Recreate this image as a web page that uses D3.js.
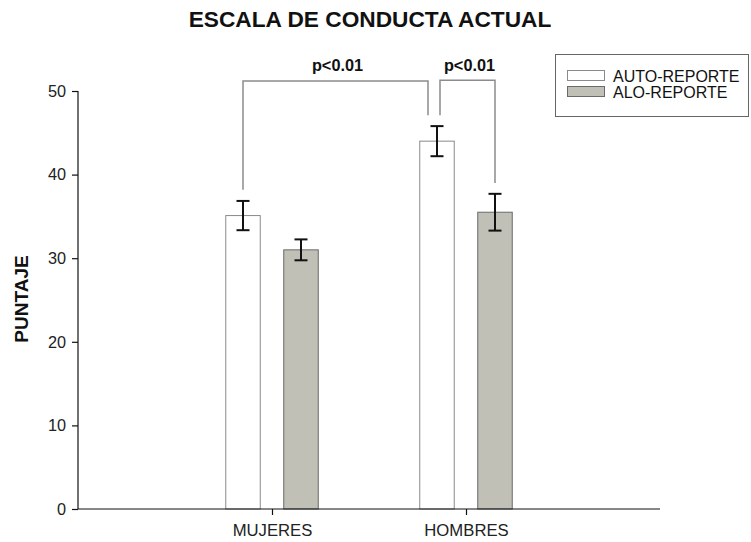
<!DOCTYPE html>
<html>
<head>
<meta charset="utf-8">
<script src="https://cdn.jsdelivr.net/npm/d3@7"></script>
<style>
  html, body { margin: 0; padding: 0; background: #fff; }
  svg { display: block; font-family: "Liberation Sans", Arial, sans-serif; }
</style>
</head>
<body>
<svg id="chart" width="751" height="542"></svg>
<script>
// Groups and series
const groups = ["MUJERES", "HOMBRES"];
const seriesNames = ["AUTO-REPORTE", "ALO-REPORTE"];
const seriesFill = ["#ffffff", "#c0c0b6"];
const seriesStroke = ["#8a8a8a", "#6a6a6a"];

// Mean scores per series, ordered as groups
const autoMeans = [35.1, 44.0];
const aloMeans = [31.0, 35.5];
// Standard errors per series
const autoErr = [1.75, 1.8];
const aloErr = [1.25, 2.2];

const yTicks = [0, 10, 20, 30, 40, 50];

// Significance brackets: from [group, series] to [group, series], with leg bottoms in score units
const brackets = [
  { from: [0, 0], to: [1, 0], leftBottom: 38.2, rightBottom: 47.1, top: 51.2, label: "p<0.01", toShift: -9, dy: -10 },
  { from: [1, 0], to: [1, 1], leftBottom: 47.1, rightBottom: 39.0, top: 51.3, label: "p<0.01", fromShift: 3, dy: -9 }
];

const means = [autoMeans, aloMeans];
const errs = [autoErr, aloErr];

const svg = d3.select("#chart");
const margin = { left: 78, right: 91, top: 91, bottom: 33 };
const W = 751, H = 542;
const x0 = margin.left, x1 = W - margin.right;
const yBase = H - margin.bottom;

const x = d3.scalePoint().domain(groups).range([x0, x1]).padding(1);
const y = d3.scaleLinear().domain([0, 50]).range([yBase, margin.top]);

const barW = 34.5;
const pairGap = 23.5;
// center of a series bar within its group
const barCenter = (g, s) => x(groups[g]) + (s === 0 ? -1 : 1) * (pairGap / 2 + barW / 2);

// Title
svg.append("text")
  .attr("x", 370).attr("y", 27)
  .attr("text-anchor", "middle")
  .attr("font-size", 22.7).attr("font-weight", "bold")
  .attr("fill", "#111")
  .text("ESCALA DE CONDUCTA ACTUAL");

// Y axis title
svg.append("text")
  .attr("transform", "translate(28,299) rotate(-90)")
  .attr("text-anchor", "middle")
  .attr("font-size", 19).attr("font-weight", "bold")
  .attr("fill", "#111")
  .text("PUNTAJE");

// Bars
seriesNames.forEach((name, s) => {
  svg.append("g").selectAll("rect")
    .data(means[s])
    .join("rect")
    .attr("x", (d, g) => barCenter(g, s) - barW / 2)
    .attr("y", d => y(d))
    .attr("width", barW)
    .attr("height", d => yBase - y(d))
    .attr("fill", seriesFill[s])
    .attr("stroke", seriesStroke[s])
    .attr("stroke-width", 1);
});

// Error bars
seriesNames.forEach((name, s) => {
  const g = svg.append("g").attr("stroke", "#111").attr("stroke-width", 2);
  means[s].forEach((m, gi) => {
    const cx = barCenter(gi, s);
    const e = errs[s][gi];
    g.append("line").attr("x1", cx).attr("x2", cx).attr("y1", y(m + e)).attr("y2", y(m - e));
    g.append("line").attr("x1", cx - 6.5).attr("x2", cx + 6.5).attr("y1", y(m + e)).attr("y2", y(m + e));
    g.append("line").attr("x1", cx - 6.5).attr("x2", cx + 6.5).attr("y1", y(m - e)).attr("y2", y(m - e));
  });
});

// Axes
const yAxis = d3.axisLeft(y).tickValues(yTicks).tickSize(6).tickPadding(6);
const yG = svg.append("g").attr("transform", `translate(${x0},0)`).call(yAxis);
yG.select(".domain").attr("stroke", "#111").attr("stroke-width", 1.2).attr("d", `M-0,${y(50)}V${yBase}`);
yG.selectAll(".tick line").attr("stroke", "#111").attr("stroke-width", 1.2);
yG.selectAll(".tick text").attr("font-size", 16.3).attr("fill", "#222")
  .attr("font-family", "Liberation Sans, Arial, sans-serif");

const xAxis = d3.axisBottom(x).tickSize(6).tickPadding(9);
const xG = svg.append("g").attr("transform", `translate(0,${yBase})`).call(xAxis);
xG.select(".domain").attr("stroke", "#111").attr("stroke-width", 1.2).attr("d", `M${x0},0H${x1}`);
xG.selectAll(".tick line").attr("stroke", "#111").attr("stroke-width", 1.2);
xG.selectAll(".tick text").attr("font-size", 16.7).attr("fill", "#222")
  .attr("font-family", "Liberation Sans, Arial, sans-serif");

// Significance brackets
brackets.forEach(b => {
  const xa = barCenter(b.from[0], b.from[1]) + (b.fromShift || 0);
  const xb = barCenter(b.to[0], b.to[1]) + (b.toShift || 0);
  const path = d3.path();
  path.moveTo(xa, y(b.leftBottom));
  path.lineTo(xa, y(b.top));
  path.lineTo(xb, y(b.top));
  path.lineTo(xb, y(b.rightBottom));
  svg.append("path")
    .attr("d", path.toString())
    .attr("fill", "none")
    .attr("stroke", "#8c8c8c")
    .attr("stroke-width", 1.5);
  svg.append("text")
    .attr("x", (xa + xb) / 2 + 2)
    .attr("y", y(b.top) + b.dy)
    .attr("text-anchor", "middle")
    .attr("font-size", 16.3).attr("font-weight", "bold")
    .attr("fill", "#111")
    .text(b.label);
});

// Legend
const legend = svg.append("g");
legend.append("rect")
  .attr("x", 555.5).attr("y", 54.5).attr("width", 193).attr("height", 62)
  .attr("fill", "#fff").attr("stroke", "#666").attr("stroke-width", 1);
seriesNames.forEach((name, s) => {
  const yy = 70.5 + s * 16;
  legend.append("rect")
    .attr("x", 567.5).attr("y", yy).attr("width", 37).attr("height", 10)
    .attr("fill", seriesFill[s]).attr("stroke", seriesStroke[s]).attr("stroke-width", 1);
  legend.append("text")
    .attr("x", 613).attr("y", yy + 11)
    .attr("font-size", 16).attr("fill", "#111")
    .text(name);
});
</script>
</body>
</html>
